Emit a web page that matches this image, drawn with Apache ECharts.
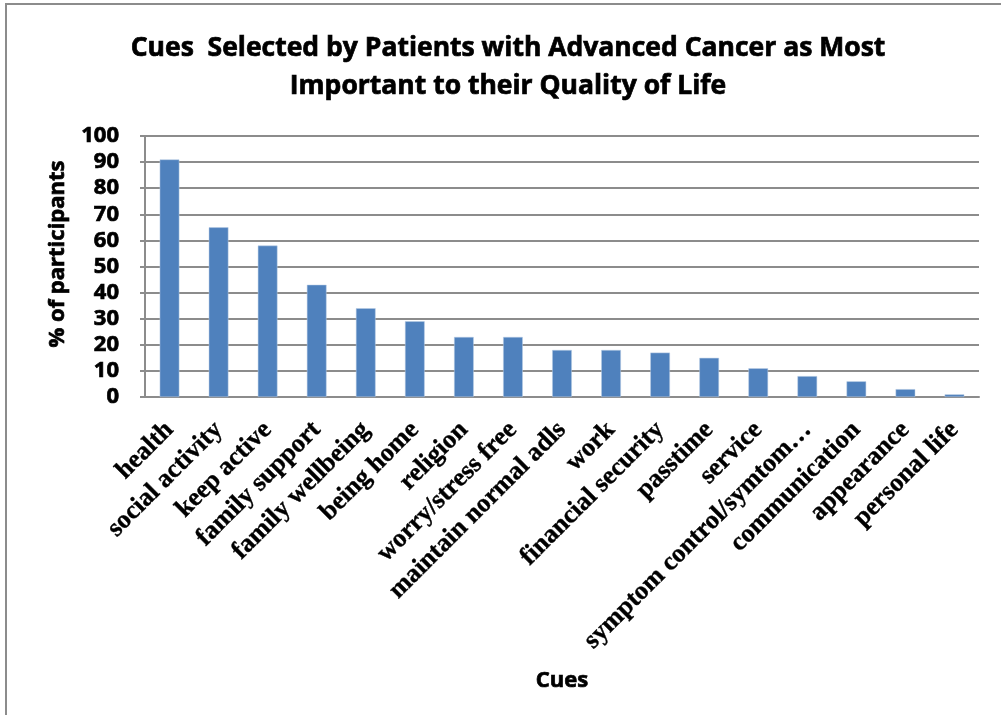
<!DOCTYPE html>
<html>
<head>
<meta charset="utf-8">
<script src="https://cdn.jsdelivr.net/npm/echarts@6/dist/echarts.min.js"></script>
<style>
  html, body { margin: 0; padding: 0; background: #fff; }
  #chart { width: 1001px; height: 715px; }
</style>
</head>
<body>
<div id="chart"></div>
<script>
// Cue categories, in descending order of selection
const cues = [
  'health', 'social activity', 'keep active', 'family support', 'family wellbeing',
  'being home', 'religion', 'worry/stress free', 'maintain normal adls', 'work',
  'financial security', 'passtime', 'service', 'symptom control/symtom\u2026',
  'communication', 'appearance', 'personal life'
];
// Percentage of participants selecting each cue
const participantsPct = [91, 65, 58, 43, 34, 29, 23, 23, 18, 18, 17, 15, 11, 8, 6, 3, 1];
// Value axis ticks
const yMin = 0, yMax = 100, yStep = 10;

const sansBold = '"Open Sans", Lato, sans-serif';
const serifBold = '"Liberation Serif", "Times New Roman", serif';
// heavier stroke for the sans-serif bold text
const heavy = { textBorderColor: '#000', textBorderWidth: 0.7 };

const chart = echarts.init(document.getElementById('chart'), null, { renderer: 'canvas' });
chart.setOption({
  backgroundColor: '#fff',
  animation: false,
  title: {
    text: 'Cues  Selected by Patients with Advanced Cancer as Most\nImportant to their Quality of Life',
    left: 503,
    top: 24,
    textAlign: 'center',
    textStyle: Object.assign({
      fontFamily: sansBold,
      fontWeight: 'bold',
      fontSize: 26.5,
      lineHeight: 38,
      color: '#000'
    }, heavy)
  },
  graphic: [{
    type: 'rect',
    shape: { x: 6, y: 4, width: 1200, height: 900 },
    style: { fill: 'none', stroke: '#8c8c8c', lineWidth: 2 },
    silent: true,
    z: -1
  }, {
    type: 'text',
    x: 58,
    y: 254,
    rotation: Math.PI / 2,
    style: {
      text: '% of participants',
      fontFamily: sansBold,
      fontWeight: 'bold',
      fontSize: 22,
      fill: '#000',
      align: 'center',
      verticalAlign: 'middle',
      stroke: '#000',
      lineWidth: 0.7
    },
    silent: true
  }],
  grid: { left: 145, right: 22, top: 136, bottom: 318, containLabel: false },
  xAxis: {
    type: 'category',
    data: cues,
    name: 'Cues',
    nameLocation: 'middle',
    nameGap: 273,
    nameTextStyle: Object.assign({ fontFamily: sansBold, fontWeight: 'bold', fontSize: 22, color: '#000' }, heavy),
    axisLine: { lineStyle: { color: '#8c8c8c', width: 2 } },
    axisTick: { show: false },
    axisLabel: {
      interval: 0,
      rotate: 45,
      margin: 29,
      fontFamily: serifBold,
      fontWeight: 'bold',
      fontSize: 26,
      color: '#000',
      textBorderColor: '#000',
      textBorderWidth: 0.4
    }
  },
  yAxis: {
    type: 'value',
    min: yMin,
    max: yMax,
    interval: yStep,
    axisLine: { show: true, lineStyle: { color: '#8c8c8c', width: 2 } },
    axisTick: { show: true, length: 5, lineStyle: { color: '#8c8c8c', width: 2 } },
    splitLine: { lineStyle: { color: '#8c8c8c', width: 2 } },
    axisLabel: Object.assign({
      margin: 26,
      fontFamily: sansBold,
      fontWeight: 'bold',
      fontSize: 22,
      color: '#000'
    }, heavy)
  },
  series: [{
    type: 'bar',
    data: participantsPct,
    barWidth: '40%',
    itemStyle: { color: '#4F81BD', borderColor: '#b9cde5', borderWidth: 0.5 }
  }]
});
</script>
</body>
</html>
